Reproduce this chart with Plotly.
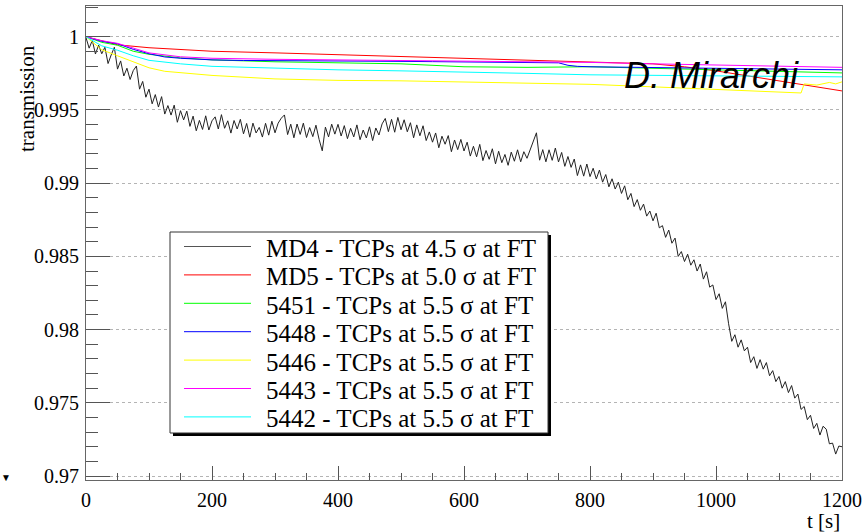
import plotly.graph_objects as go

# ---------------- data ----------------
series_names = [
    "MD4 - TCPs at 4.5 σ at FT",
    "MD5 - TCPs at 5.0 σ at FT",
    "5451 - TCPs at 5.5 σ at FT",
    "5448 - TCPs at 5.5 σ at FT",
    "5446 - TCPs at 5.5 σ at FT",
    "5443 - TCPs at 5.5 σ at FT",
    "5442 - TCPs at 5.5 σ at FT",
]
series_colors = ["#000000", "#ff0000", "#00ff00", "#0000ff", "#ffff00", "#ff00ff", "#00ffff"]

t_md4 = list(range(0, 1201, 5))
v_md4 = [
    0.99994, 0.99922, 0.99975, 0.99882, 0.99943, 0.99884, 0.99928, 0.99817, 0.99876, 0.99928,
    0.99779, 0.99835, 0.99732, 0.99785, 0.99708, 0.99769, 0.99800, 0.99642, 0.99695, 0.99587,
    0.99642,
    0.99542, 0.99605, 0.99520, 0.99591, 0.99472, 0.99530, 0.99465, 0.99533, 0.99416, 0.99495,
    0.99432, 0.99492, 0.99388, 0.99458, 0.99358, 0.99429, 0.99367, 0.99460, 0.99363, 0.99426,
    0.99453, 0.99370, 0.99468, 0.99375, 0.99426, 0.99342, 0.99428, 0.99370, 0.99436, 0.99337,
    0.99408, 0.99314, 0.99410, 0.99343, 0.99381, 0.99315, 0.99409, 0.99328, 0.99423, 0.99344,
    0.99410, 0.99444, 0.99466, 0.99332, 0.99403, 0.99310, 0.99404, 0.99333, 0.99410, 0.99312,
    0.99380, 0.99318, 0.99396, 0.99299, 0.99221, 0.99383, 0.99316, 0.99403, 0.99335, 0.99402,
    0.99322, 0.99393, 0.99304, 0.99375, 0.99316, 0.99398, 0.99297, 0.99363, 0.99309, 0.99385,
    0.99291, 0.99377, 0.99329, 0.99405, 0.99442, 0.99352, 0.99436, 0.99348, 0.99449, 0.99365,
    0.99433, 0.99351, 0.99413, 0.99310, 0.99398, 0.99324, 0.99392, 0.99291, 0.99350, 0.99280,
    0.99343, 0.99242, 0.99321, 0.99266, 0.99325, 0.99215, 0.99295, 0.99229, 0.99299, 0.99220,
    0.99280, 0.99185, 0.99252, 0.99180, 0.99265, 0.99154, 0.99223, 0.99163, 0.99235, 0.99132,
    0.99218, 0.99140, 0.99196, 0.99122, 0.99212, 0.99150, 0.99228, 0.99146, 0.99215, 0.99170,
    0.99224, 0.99278, 0.99344, 0.99157, 0.99229, 0.99146, 0.99228, 0.99156, 0.99240, 0.99145,
    0.99210, 0.99115, 0.99182, 0.99108, 0.99165, 0.99052, 0.99125, 0.99048, 0.99131, 0.99045,
    0.99102, 0.99029, 0.99090, 0.99007, 0.99059, 0.98975, 0.99030, 0.98960, 0.99007, 0.98930,
    0.98982, 0.98887, 0.98930, 0.98840, 0.98888, 0.98815, 0.98857, 0.98775, 0.98810, 0.98743,
    0.98795, 0.98695, 0.98710, 0.98630, 0.98680, 0.98590, 0.98625, 0.98500, 0.98533, 0.98465,
    0.98515, 0.98440, 0.98477, 0.98400, 0.98448, 0.98345, 0.98395, 0.98290, 0.98305, 0.98205,
    0.98245, 0.98145, 0.98190, 0.98040, 0.97920, 0.97965, 0.97880, 0.97930, 0.97855, 0.97880,
    0.97775, 0.97815, 0.97735, 0.97795, 0.97730, 0.97775, 0.97685, 0.97720, 0.97645, 0.97680,
    0.97600, 0.97645, 0.97570, 0.97618, 0.97532, 0.97560, 0.97455, 0.97475, 0.97385, 0.97415,
    0.97325, 0.97360, 0.97280, 0.97340, 0.97320, 0.97220, 0.97225, 0.97150, 0.97205, 0.97200,
]

t_md5 = [0, 25, 50, 100, 200, 300, 400, 500, 600, 700, 800, 850, 900, 950, 1000, 1050, 1100, 1150, 1200]
v_md5 = [1.0, 0.99973, 0.99945, 0.99925, 0.99901, 0.99890, 0.99877, 0.99863, 0.99853, 0.99842,
         0.99829, 0.99822, 0.99815, 0.99795, 0.99767, 0.99733, 0.99699, 0.99664, 0.99630]

t_5451 = [0, 25, 50, 75, 100, 150, 200, 300, 400, 500, 600, 700, 800, 900, 1000, 1100, 1200]
v_5451 = [1.0, 0.99962, 0.99942, 0.99901, 0.99880, 0.99856, 0.99842, 0.99829, 0.99822, 0.99815,
          0.99795, 0.99791, 0.99795, 0.99784, 0.99774, 0.99764, 0.99753]

t_5448 = [0, 25, 50, 75, 100, 125, 150, 175, 200, 250, 300, 350, 400, 450, 500, 550, 600, 650,
          700, 750, 765, 780, 800, 850, 900, 950, 1000, 1050, 1100, 1150, 1200]
v_5448 = [1.0, 0.99969, 0.99952, 0.99914, 0.99884, 0.99862, 0.99853, 0.99846, 0.99842, 0.99838,
          0.99836, 0.99833, 0.99836, 0.99834, 0.99832, 0.99830, 0.99829, 0.99827, 0.99825, 0.99822,
          0.99805, 0.99798, 0.99795, 0.99792, 0.99788, 0.99786, 0.99784, 0.99781, 0.99777, 0.99775,
          0.99774]

t_5446 = [0, 25, 50, 75, 100, 125, 150, 200, 300, 400, 500, 600, 700, 800, 900, 1000, 1100, 1135,
          1140, 1160, 1180, 1190, 1200]
v_5446 = [1.0, 0.99911, 0.99870, 0.99829, 0.99788, 0.99764, 0.99753, 0.99736, 0.99712, 0.99702,
          0.99699, 0.99692, 0.99685, 0.99675, 0.99658, 0.99640, 0.99623, 0.99616, 0.99678, 0.99670,
          0.99688, 0.99678, 0.99692]

t_5443 = [0, 25, 50, 75, 100, 150, 200, 300, 400, 500, 600, 700, 800, 900, 1000, 1100, 1200]
v_5443 = [1.0, 0.99973, 0.99955, 0.99921, 0.99890, 0.99863, 0.99853, 0.99846, 0.99842, 0.99839,
          0.99836, 0.99832, 0.99825, 0.99815, 0.99808, 0.99801, 0.99791]

t_5442 = [0, 25, 50, 75, 100, 150, 200, 300, 400, 500, 600, 700, 800, 900, 1000, 1100, 1200]
v_5442 = [1.0, 0.99938, 0.99908, 0.99870, 0.99839, 0.99815, 0.99798, 0.99784, 0.99774, 0.99767,
          0.99760, 0.99750, 0.99740, 0.99736, 0.99733, 0.99729, 0.99726]

x_tick_vals = [0, 200, 400, 600, 800, 1000, 1200]
x_tick_text = ["0", "200", "400", "600", "800", "1000", "1200"]
y_tick_vals = [0.97, 0.975, 0.98, 0.985, 0.99, 0.995, 1.0]
y_tick_text = ["0.97", "0.975", "0.98", "0.985", "0.99", "0.995", "1"]

# ---------------- layout helpers ----------------
W, H = 863, 532
ML, MR, MT, MB = 86, 21, 6, 52
PW, PH = W - ML - MR, H - MT - MB


def pxx(x):
    return (x - ML) / PW


def pxy(y):
    return (H - MB - y) / PH


SERIF = "Liberation Serif, Times New Roman, Times, serif"
SANS = "Liberation Sans, Arial, Helvetica, sans-serif"

fig = go.Figure()
all_t = [t_md4, t_md5, t_5451, t_5448, t_5446, t_5443, t_5442]
all_v = [v_md4, v_md5, v_5451, v_5448, v_5446, v_5443, v_5442]
for name, col, tt, vv in zip(series_names, series_colors, all_t, all_v):
    fig.add_trace(go.Scatter(x=tt, y=vv, mode="lines", name=name,
                             line=dict(color=col if col != "#000000" else "#222222", width=1),
                             showlegend=False))

axis_common = dict(showline=True, linecolor="#666666", linewidth=1, mirror=True,
                   ticks="inside", tickcolor="#555555", tickwidth=1, automargin=False,
                   tickfont=dict(family=SERIF, size=20, color="black"), zeroline=False)

fig.update_xaxes(range=[0, 1200], tickvals=x_tick_vals, ticktext=x_tick_text, ticklen=14,
                 showgrid=False, ticklabelstandoff=2,
                 minor=dict(ticks="inside", dtick=50, tick0=0, ticklen=7, tickcolor="#555555",
                            showgrid=False),
                 **axis_common)
fig.update_yaxes(range=[0.96973, 1.0021], tickvals=y_tick_vals, ticktext=y_tick_text, ticklen=24,
                 showgrid=True, gridcolor="#b4b4b4", griddash="dot", gridwidth=1,
                 minor=dict(ticks="inside", dtick=0.001, tick0=0.97, ticklen=12,
                            tickcolor="#555555", showgrid=False),
                 ticklabelstandoff=2,
                 **axis_common)

# ---------------- manual legend (ROOT TLegend style) ----------------
shapes = []
lx0, lx1, ly0, ly1 = 170, 548, 232, 433
shapes.append(dict(type="rect", xref="paper", yref="paper", x0=pxx(lx0 + 3), x1=pxx(lx1 + 3),
                   y0=pxy(ly1 + 3), y1=pxy(ly0 + 3), fillcolor="black", line=dict(width=0)))
shapes.append(dict(type="rect", xref="paper", yref="paper", x0=pxx(lx0), x1=pxx(lx1),
                   y0=pxy(ly1), y1=pxy(ly0), fillcolor="white", line=dict(color="#333333", width=1)))
annotations = []
for i, (name, col) in enumerate(zip(series_names, series_colors)):
    yc = 248.5 + i * 28.4
    shapes.append(dict(type="line", xref="paper", yref="paper", x0=pxx(184), x1=pxx(251),
                       y0=pxy(yc - 2), y1=pxy(yc - 2),
                       line=dict(color=col if i else "#555555", width=1)))
    annotations.append(dict(text=name, xref="paper", yref="paper", x=pxx(264), y=pxy(yc),
                            xanchor="left", yanchor="middle", showarrow=False,
                            font=dict(family=SERIF, size=25, color="black")))

annotations += [
    dict(text="transmission", xref="paper", yref="paper", x=pxx(27), y=pxy(99), textangle=-90,
         xanchor="center", yanchor="middle", showarrow=False,
         font=dict(family=SERIF, size=21, color="black")),
    dict(text="t [s]", xref="paper", yref="paper", x=pxx(842), y=pxy(521),
         xanchor="right", yanchor="middle", showarrow=False,
         font=dict(family=SERIF, size=21, color="black")),
    dict(text="D. Mirarchi", xref="paper", yref="paper", x=pxx(711), y=pxy(76),
         xanchor="center", yanchor="middle", showarrow=False,
         font=dict(family=SANS, size=36, color="black", style="italic")),
    dict(text="▼", xref="paper", yref="paper", x=pxx(6), y=pxy(477),
         xanchor="center", yanchor="middle", showarrow=False,
         font=dict(family=SANS, size=10, color="black")),
]

fig.update_layout(width=W, height=H, margin=dict(l=ML, r=MR, t=MT, b=MB, pad=0, autoexpand=False),
                  paper_bgcolor="white", plot_bgcolor="white", showlegend=False,
                  font=dict(family=SERIF, size=20, color="black"),
                  shapes=shapes, annotations=annotations)

fig.write_html("out.html", config={"displayModeBar": False},
               post_script="document.body.style.margin='0';document.body.style.padding='0';")
